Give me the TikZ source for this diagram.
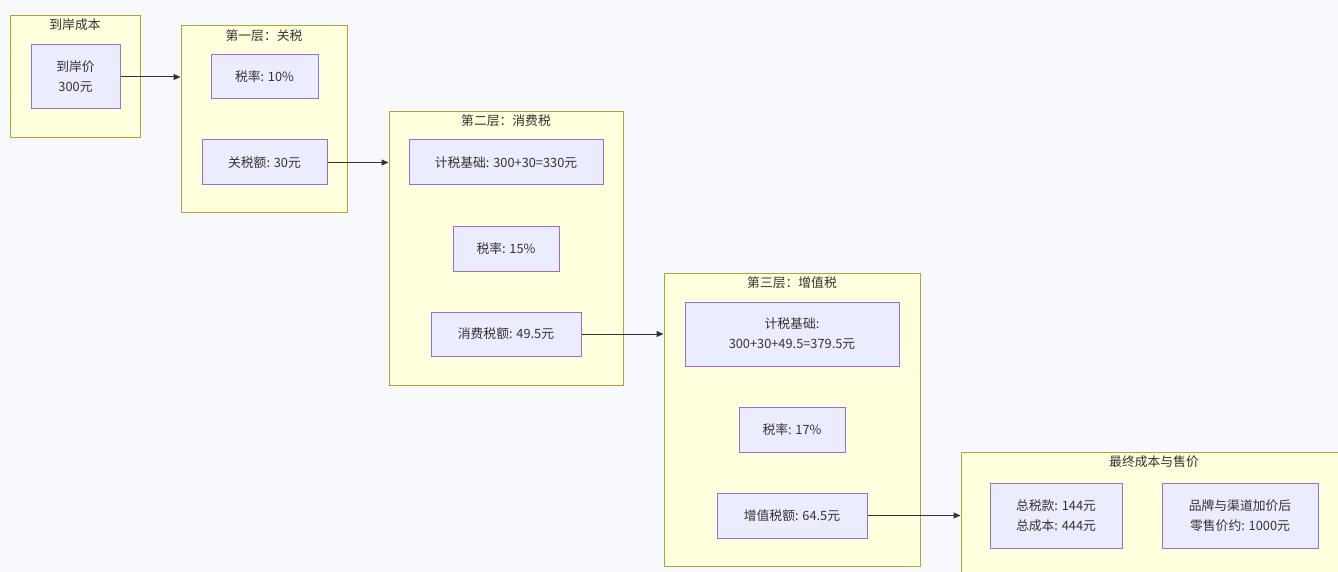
\documentclass[tikz,border=0pt]{standalone}
\usepackage{fontspec}
\setmainfont{Noto Sans CJK SC}
\usetikzlibrary{arrows.meta}
\definecolor{bgc}{HTML}{F8F9FC}
\definecolor{clfill}{HTML}{FFFFDE}
\definecolor{cldraw}{HTML}{AAAA33}
\definecolor{ndfill}{HTML}{ECECFF}
\definecolor{nddraw}{HTML}{9370DB}
\definecolor{txt}{HTML}{333333}
\tikzset{
  cluster/.style={draw=cldraw, fill=clfill, line width=1pt, inner sep=0pt},
  cltitle/.style={text=txt, font=\fontsize{12.8}{16}\selectfont, inner sep=0pt},
  box/.style={draw=nddraw, fill=ndfill, line width=1pt, inner sep=0pt, text=txt,
    align=center, font=\fontsize{12.8}{20}\selectfont},
  link/.style={draw=txt, line width=1pt, -{Triangle[length=7pt,width=6pt]}}
}
\begin{document}
\begin{tikzpicture}[x=1pt,y=-1pt]
\useasboundingbox (0,0) rectangle (1338,572);
\fill[bgc] (0,0) rectangle (1338,572);
\begin{scope}
\clip (0,0) rectangle (1338,572);
% clusters
\node[cluster, minimum width=130pt, minimum height=122pt] (c1) at (75,77) {};
\node[cltitle] (t1) at (75,25) {到岸成本};
\node[cluster, minimum width=166pt, minimum height=187pt] (c2) at (264,119.5) {};
\node[cltitle] (t2) at (264,36) {第一层：关税};
\node[cluster, minimum width=234pt, minimum height=273pt] (c3) at (506,248.5) {};
\node[cltitle] (t3) at (506,121) {第二层：消费税};
\node[cluster, minimum width=256pt, minimum height=293pt] (c4) at (792,419.5) {};
\node[cltitle] (t4) at (792,283) {第三层：增值税};
\node[cluster, minimum width=386pt, minimum height=130pt] (c5) at (1154,517) {};
\node[cltitle] (t5) at (1154,462) {最终成本与售价};
% nodes
\node[box, minimum width=89pt, minimum height=64pt] (n1) at (75.5,77) {到岸价\\300元};
\node[box, minimum width=107pt, minimum height=44pt] (n2) at (264.5,77) {税率: 10\%};
\node[box, minimum width=125pt, minimum height=45pt] (n3) at (264.5,162.5) {关税额: 30元};
\node[box, minimum width=194pt, minimum height=45pt] (n4) at (506,162.5) {计税基础: 300+30=330元};
\node[box, minimum width=106pt, minimum height=45pt] (n5) at (506,248.5) {税率: 15\%};
\node[box, minimum width=150pt, minimum height=44pt] (n6) at (506,334) {消费税额: 49.5元};
\node[box, minimum width=214pt, minimum height=64pt] (n7) at (792,334) {计税基础:\\300+30+49.5=379.5元};
\node[box, minimum width=106pt, minimum height=45pt] (n8) at (792,429.5) {税率: 17\%};
\node[box, minimum width=150pt, minimum height=45pt] (n9) at (792,515.5) {增值税额: 64.5元};
\node[box, minimum width=132pt, minimum height=65pt] (n10) at (1056,515.5) {总税款: 144元\\总成本: 444元};
\node[box, minimum width=156pt, minimum height=65pt] (n11) at (1240,515.5) {品牌与渠道加价后\\零售价约: 1000元};
% links
\draw[link] (n1.east) -- (n1.east -| c2.west);
\draw[link] (n3.east) -- (n3.east -| c3.west);
\draw[link] (n6.east) -- (n6.east -| c4.west);
\draw[link] (n9.east) -- (n9.east -| c5.west);
\end{scope}
\end{tikzpicture}
\end{document}
